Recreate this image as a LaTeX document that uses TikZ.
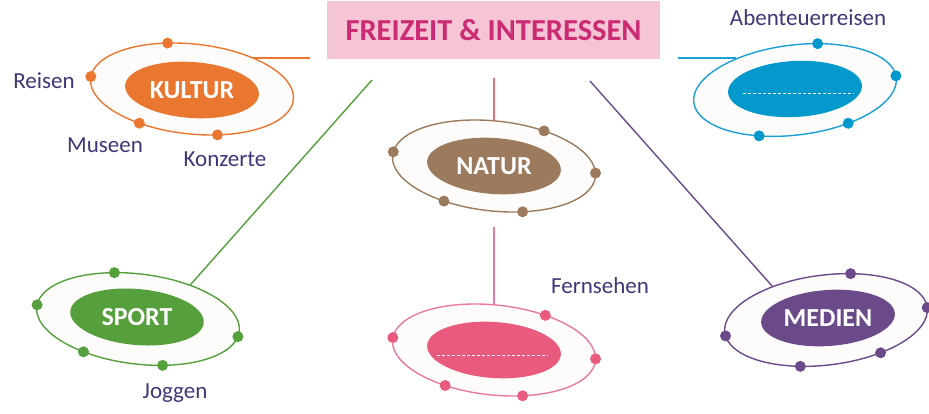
\documentclass[tikz,border=0pt]{standalone}
\usepackage{fontspec}
\setmainfont{Carlito}
\usetikzlibrary{shapes.geometric,calc}
\definecolor{korange}{HTML}{EA7730}
\definecolor{kbrown}{HTML}{9B7A5E}
\definecolor{kpink}{HTML}{E85A7E}
\definecolor{kpinkline}{HTML}{E87AA0}
\definecolor{kblue}{HTML}{0399CC}
\definecolor{kblueline}{HTML}{1AA0D4}
\definecolor{kgreen}{HTML}{55A03C}
\definecolor{kpurple}{HTML}{6B4A8A}
\definecolor{kred}{HTML}{E0707A}
\definecolor{titlebg}{HTML}{F5C5D6}
\definecolor{titletext}{HTML}{CC2A72}
\definecolor{navy}{HTML}{3C3878}
\definecolor{cream}{HTML}{FEFCFA}
\begin{document}
\begin{tikzpicture}[x=1pt,y=-1pt,
  outer/.style={ellipse, draw, line width=1.4pt, fill=cream, minimum width=204pt, minimum height=90pt, inner sep=0pt, outer sep=0pt},
  inner/.style={ellipse, inner sep=0pt, minimum width=134pt, minimum height=56pt},
  tag/.style={text=white, font=\bfseries\fontsize{26}{28}\selectfont},
  hand/.style={text=navy, font=\fontsize{23}{25}\selectfont},
  link/.style={line width=1.4pt},
  dashline/.style={white, line width=1pt, dash pattern=on 3pt off 2pt}]
\useasboundingbox (0,0) rectangle (929,414);

% title
\node[fill=titlebg, minimum width=333pt, minimum height=58pt, inner sep=0pt] (t) at (493.5,30)
  {\raisebox{-2pt}{\color{titletext}\bfseries\fontsize{30.5}{32}\selectfont FREIZEIT \& INTERESSEN}};

% KULTUR
\node[outer, draw=korange, rotate=-6] (ko) at (192,89) {};
\node[inner, fill=korange, rotate=-4] (ki) at (192,90) {};
\node[tag] (kt) at (ki) {KULTUR};
\coordinate (ok) at (310,58);
\draw[link, korange] (ok) -- (ok -| ko.33);
\foreach \a in {124,179,219,305} \fill[korange] (ko.\a) circle[radius=5.5];
\node[hand] (reisen) at (44,81) {Reisen};
\node[hand] (museen) at (105,145) {Museen};
\node[hand] (konzerte) at (225,159) {Konzerte};

% NATUR
\node[outer, draw=kbrown, rotate=-6] (no) at (494,166) {};
\node[inner, fill=kbrown, rotate=-4] (ni) at (494,166) {};
\node[tag] (nt) at (ni) {NATUR};
\coordinate (rk) at (494,78);
\draw[link, kred] (rk) -- (rk |- no.96);
\foreach \a in {41,178,2,221,308} \fill[kbrown] (no.\a) circle[radius=5.5];

% pink (Fernsehen)
\node[outer, draw=kpinkline, rotate=-6] (po) at (494,350) {};
\node[inner, fill=kpink, rotate=-4] (pi) at (494,350) {};
\draw[dashline] ($(pi)+(-57,5)$) -- ($(pi)+(54,5)$);
\coordinate (pk) at (494,227);
\draw[link, kpinkline] (pk) -- (pk |- po.96);
\foreach \a in {40,179,1.5,222,308} \fill[kpink] (po.\a) circle[radius=5.5];
\node[hand] (fern) at (600,286) {Fernsehen};

% blue (Abenteuerreisen)
\node[outer, draw=kblueline, rotate=7] (bo) at (795,90) {};
\node[inner, fill=kblue, rotate=3] (bi) at (795,89) {};
\draw[dashline] ($(bi)+(-52,5)$) -- ($(bi)+(59,5)$);
\coordinate (bk) at (678,58);
\draw[link, kblueline] (bk) -- (bk -| bo.145);
\foreach \a in {57,1,321,225} \fill[kblue] (bo.\a) circle[radius=5.5];
\node[hand] (abent) at (808,18) {Abenteuerreisen};

% SPORT
\node[outer, draw=kgreen, rotate=-7] (so) at (138,319) {};
\node[inner, fill=kgreen, rotate=-5] (si) at (137,317) {};
\node[tag] (st) at (si) {SPORT};
\coordinate (gk) at (372,80);
\draw[link, kgreen] (gk) -- (so.40);
\foreach \a in {124.5,179.7,357,218,305} \fill[kgreen] (so.\a) circle[radius=5.5];
\node[hand] (joggen) at (175,393) {Joggen};

% MEDIEN
\node[outer, draw=kpurple, rotate=7] (mo) at (826,320) {};
\node[inner, fill=kpurple, rotate=4] (mi) at (828,318) {};
\node[tag] (mt) at (mi) {MEDIEN};
\coordinate (mk) at (590,81);
\draw[link, kpurple] (mk) -- (mo.141);
\foreach \a in {55.5,0.9,182.3,322.4,234} \fill[kpurple] (mo.\a) circle[radius=5.5];
\end{tikzpicture}
\end{document}
